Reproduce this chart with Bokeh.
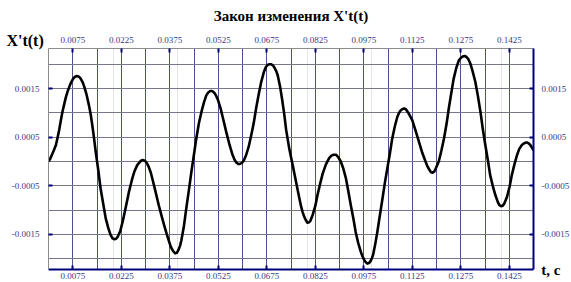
from bokeh.plotting import figure
from bokeh.models import (LinearAxis, FixedTicker, Grid, BasicTickFormatter,
                          ColumnDataSource, Range1d)
from bokeh.embed import file_html
from bokeh.resources import INLINE

# ---- data ----
# time, s
t_vals = [
    0.0000, 0.0005, 0.0010, 0.0016, 0.0023, 0.0028, 0.0033, 0.0038, 0.0043, 0.0049,
    0.0054, 0.0059, 0.0064, 0.0070, 0.0076, 0.0082, 0.0088, 0.0094, 0.0099, 0.0105,
    0.0110, 0.0118, 0.0125, 0.0131, 0.0136, 0.0141, 0.0146, 0.0154, 0.0161, 0.0170,
    0.0177, 0.0185, 0.0192, 0.0198, 0.0204, 0.0209, 0.0214, 0.0222, 0.0230, 0.0238,
    0.0249, 0.0259, 0.0266, 0.0274, 0.0281, 0.0287, 0.0293, 0.0299, 0.0305, 0.0310,
    0.0316, 0.0321, 0.0331, 0.0341, 0.0351, 0.0358, 0.0365, 0.0372, 0.0378, 0.0385,
    0.0392, 0.0397, 0.0402, 0.0407, 0.0411, 0.0419, 0.0426, 0.0434, 0.0442, 0.0450,
    0.0457, 0.0465, 0.0473, 0.0481, 0.0488, 0.0494, 0.0500, 0.0506, 0.0512, 0.0518,
    0.0524, 0.0532, 0.0540, 0.0550, 0.0560, 0.0568, 0.0575, 0.0581, 0.0587, 0.0592,
    0.0598, 0.0604, 0.0611, 0.0619, 0.0627, 0.0635, 0.0642, 0.0650, 0.0658, 0.0666,
    0.0672, 0.0678, 0.0684, 0.0689, 0.0695, 0.0700, 0.0705, 0.0709, 0.0716, 0.0722,
    0.0729, 0.0735, 0.0745, 0.0756, 0.0768, 0.0775, 0.0781, 0.0786, 0.0791, 0.0796,
    0.0801, 0.0806, 0.0810, 0.0817, 0.0825, 0.0832, 0.0840, 0.0848, 0.0858, 0.0868,
    0.0875, 0.0882, 0.0889, 0.0896, 0.0904, 0.0912, 0.0920, 0.0927, 0.0935, 0.0943,
    0.0950, 0.0958, 0.0966, 0.0971, 0.0976, 0.0981, 0.0986, 0.0991, 0.0996, 0.1000,
    0.1004, 0.1010, 0.1017, 0.1025, 0.1033, 0.1040, 0.1048, 0.1056, 0.1063, 0.1071,
    0.1079, 0.1084, 0.1089, 0.1095, 0.1100, 0.1106, 0.1112, 0.1118, 0.1125, 0.1136,
    0.1146, 0.1156, 0.1166, 0.1172, 0.1178, 0.1183, 0.1188, 0.1193, 0.1198, 0.1203,
    0.1207, 0.1215, 0.1223, 0.1231, 0.1238, 0.1246, 0.1253, 0.1261, 0.1269, 0.1275,
    0.1281, 0.1287, 0.1293, 0.1299, 0.1305, 0.1312, 0.1320, 0.1328, 0.1336, 0.1343,
    0.1351, 0.1359, 0.1366, 0.1374, 0.1382, 0.1390, 0.1395, 0.1400, 0.1405, 0.1410,
    0.1418, 0.1426, 0.1433, 0.1441, 0.1449, 0.1456, 0.1464, 0.1470, 0.1476, 0.1481,
    0.1486, 0.1490, 0.1495, 0.1500]
# X'(t) in units of 1e-3
x_dot_milli = [
    0.00, 0.05, 0.13, 0.22, 0.34, 0.49, 0.65, 0.84, 1.02, 1.19,
    1.33, 1.44, 1.53, 1.63, 1.70, 1.745, 1.76, 1.745, 1.71, 1.64,
    1.55, 1.37, 1.16, 0.95, 0.72, 0.47, 0.20, -0.18, -0.55, -0.90,
    -1.17, -1.37, -1.51, -1.58, -1.60, -1.59, -1.55, -1.43, -1.22, -0.97,
    -0.62, -0.35, -0.20, -0.08, -0.02, 0.02, 0.03, 0.01, -0.04, -0.11,
    -0.22, -0.35, -0.62, -0.90, -1.15, -1.32, -1.48, -1.63, -1.75, -1.84,
    -1.89, -1.88, -1.82, -1.73, -1.62, -1.32, -0.97, -0.60, -0.21, 0.15,
    0.47, 0.78, 1.02, 1.22, 1.36, 1.42, 1.45, 1.45, 1.42, 1.36,
    1.27, 1.10, 0.88, 0.60, 0.34, 0.16, 0.04, -0.02, -0.05, -0.05,
    -0.03, 0.02, 0.13, 0.30, 0.54, 0.80, 1.09, 1.38, 1.64, 1.84,
    1.94, 1.99, 2.00, 2.00, 1.97, 1.92, 1.85, 1.77, 1.55, 1.30,
    0.98, 0.65, 0.25, -0.10, -0.50, -0.73, -0.92, -1.04, -1.14, -1.21,
    -1.26, -1.25, -1.22, -1.10, -0.92, -0.69, -0.46, -0.25, -0.06, 0.07,
    0.12, 0.14, 0.14, 0.09, 0.00, -0.15, -0.35, -0.60, -0.90, -1.18,
    -1.45, -1.68, -1.86, -1.95, -2.02, -2.07, -2.10, -2.09, -2.05, -1.99,
    -1.92, -1.72, -1.45, -1.10, -0.76, -0.45, -0.14, 0.17, 0.47, 0.72,
    0.92, 1.00, 1.05, 1.08, 1.09, 1.07, 1.01, 0.94, 0.85, 0.62,
    0.40, 0.18, 0.00, -0.10, -0.17, -0.22, -0.23, -0.21, -0.14, -0.06,
    0.00, 0.22, 0.47, 0.77, 1.09, 1.42, 1.70, 1.92, 2.08, 2.13,
    2.16, 2.17, 2.15, 2.10, 2.01, 1.85, 1.64, 1.35, 1.02, 0.68,
    0.34, 0.02, -0.28, -0.50, -0.69, -0.84, -0.90, -0.92, -0.91, -0.86,
    -0.73, -0.52, -0.28, -0.06, 0.13, 0.26, 0.34, 0.37, 0.39, 0.39,
    0.37, 0.34, 0.29, 0.23]

x_ticks = [0.0075, 0.0225, 0.0375, 0.0525, 0.0675, 0.0825, 0.0975, 0.1125, 0.1275, 0.1425]
x_tick_labels = ["0.0075", "0.0225", "0.0375", "0.0525", "0.0675",
                 "0.0825", "0.0975", "0.1125", "0.1275", "0.1425"]
y_ticks = [-0.0015, -0.0005, 0.0005, 0.0015]
y_tick_labels = ["-0.0015", "-0.0005", "0.0005", "0.0015"]
x_grid = [0.0075, 0.015, 0.0225, 0.03, 0.0375, 0.045, 0.0525, 0.06, 0.0675, 0.075,
          0.0825, 0.09, 0.0975, 0.105, 0.1125, 0.12, 0.1275, 0.135, 0.1425]
y_grid = [-0.002, -0.0015, -0.001, -0.0005, 0.0, 0.0005, 0.001, 0.0015, 0.002]

title_text = "Закон изменения X't(t)"
y_label_text = "X't(t)"
x_label_text = "t, c"

X_RANGE = (0.0, 0.15)
Y_RANGE = (-0.002222, 0.002325)

assert len(t_vals) == len(x_dot_milli)
x_dot_vals = [v * 1e-3 for v in x_dot_milli]

# ---- figure ----
FW, FH = 485, 221
p = figure(frame_width=FW, frame_height=FH,
           x_range=Range1d(*X_RANGE), y_range=Range1d(*Y_RANGE),
           output_backend="svg", toolbar_location=None,
           x_axis_location=None, y_axis_location=None,
           min_border_left=48, min_border_right=38, min_border_top=48, min_border_bottom=13)
p.outline_line_color = None
p.background_fill_color = "white"
p.border_fill_color = "white"

p.add_layout(Grid(dimension=0, ticker=FixedTicker(ticks=x_grid),
                  grid_line_color="#4e4e8e", grid_line_width=1))
p.add_layout(Grid(dimension=1, ticker=FixedTicker(ticks=y_grid),
                  grid_line_color="#77778a", grid_line_width=1))

NAVY = "#00007a"
LABEL_COL = "#3a3a86"


def make_axis(ticks, labels, line_color, line_width, standoff):
    ax = LinearAxis(ticker=FixedTicker(ticks=ticks),
                    formatter=BasicTickFormatter(use_scientific=False, precision=4))
    ax.major_label_overrides = {tk: lb for tk, lb in zip(ticks, labels)}
    ax.axis_line_color = line_color
    ax.axis_line_width = line_width
    ax.major_tick_in = 4
    ax.major_tick_out = 0
    ax.major_tick_line_color = NAVY
    ax.major_tick_line_width = 2
    ax.minor_tick_line_color = None
    ax.major_label_text_font = "Liberation Serif"
    ax.major_label_text_font_size = "9px"
    ax.major_label_text_color = LABEL_COL
    ax.major_label_standoff = standoff
    ax.axis_label_text_font = "Liberation Serif"
    ax.axis_label_text_font_style = "bold"
    ax.axis_label_text_color = "black"
    return ax


bottom_ax = make_axis(x_ticks, x_tick_labels, NAVY, 2, 3)
top_ax = make_axis(x_ticks, x_tick_labels, "#8c8c8c", 1, 6)
left_ax = make_axis(y_ticks, y_tick_labels, "#8c8c8c", 1, 9)
right_ax = make_axis(y_ticks, y_tick_labels, NAVY, 2, 8)

# title as the label of the top axis
top_ax.axis_label = title_text
top_ax.axis_label_text_font_size = "15px"
top_ax.axis_label_standoff = 10

# "X't(t)" as label of the left axis, at its top end (empty 2nd line lifts it)
left_ax.axis_label = y_label_text + "\n"
left_ax.axis_label_orientation = "horizontal"
left_ax.axis_label_text_font_size = "16px"
left_ax.axis_label_text_line_height = 0.9
left_ax.axis_label_standoff = -35
left_ax.axis_label_align = "end"

# "t, c" as label of the right axis, at its bottom end
right_ax.axis_label = x_label_text
right_ax.axis_label_orientation = "horizontal"
right_ax.axis_label_text_font_size = "15px"
right_ax.axis_label_standoff = -31
right_ax.axis_label_align = "start"

p.add_layout(bottom_ax, "below")
p.add_layout(top_ax, "above")
p.add_layout(left_ax, "left")
p.add_layout(right_ax, "right")

src = ColumnDataSource(data=dict(t=t_vals, v=x_dot_vals))
p.line("t", "v", source=src, line_color="black", line_width=2.6, line_join="round")

open("out.html", "w").write(file_html(p, INLINE))
